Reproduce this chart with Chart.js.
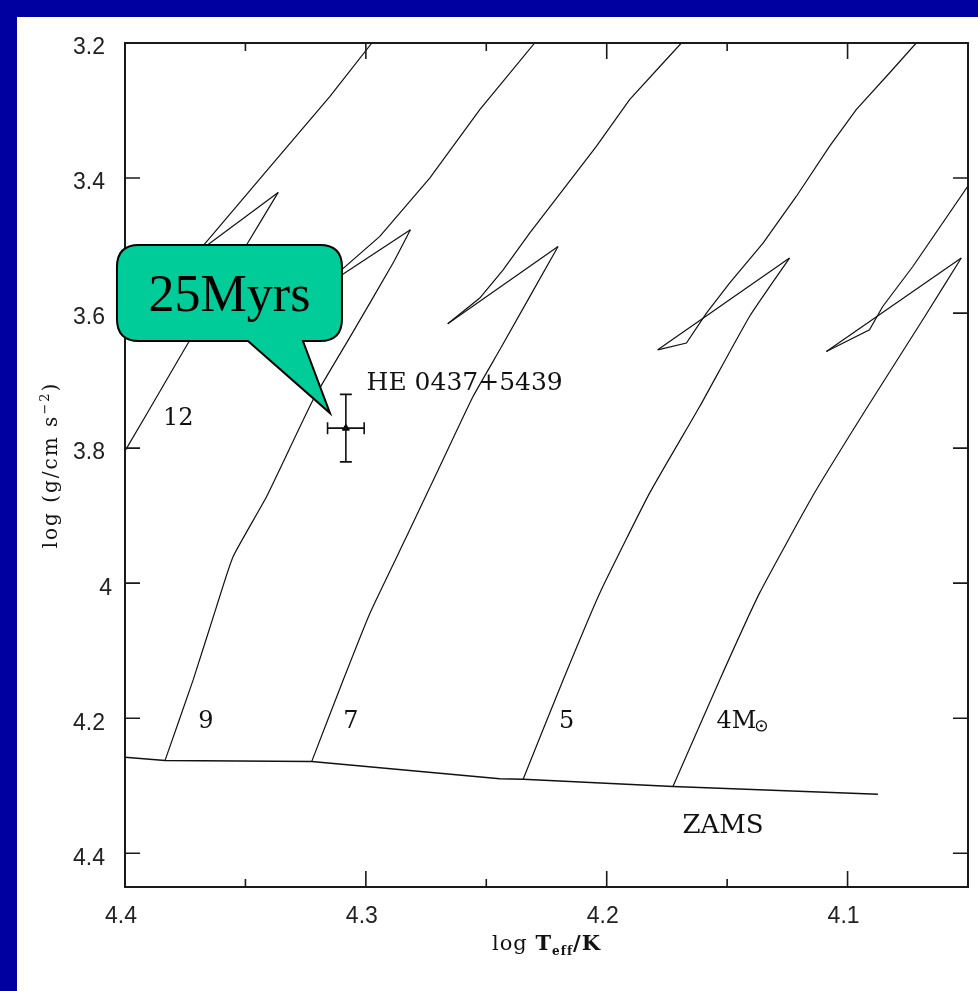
<!DOCTYPE html>
<html>
<head>
<meta charset="utf-8">
<title>HE 0437+5439 evolutionary tracks</title>
<script src="https://cdn.jsdelivr.net/npm/chart.js@4.4.1/dist/chart.umd.min.js"></script>
<style>
  html, body { margin: 0; padding: 0; background: #0000a0; }
  .panel { position: absolute; left: 17px; top: 17px; width: 961px; height: 974px; background: #fff; }
  canvas { display: block; }
</style>
</head>
<body>
<div class="panel"><canvas id="hrd"></canvas></div>
<script>
// axis ticks
const xMajorTicks = [4.4, 4.3, 4.2, 4.1];
const xMinorTicks = [4.35, 4.25, 4.15, 4.05];
const yTicks = [3.2, 3.4, 3.6, 3.8, 4.0, 4.2, 4.4];

// zero age main sequence
const zamsT = [4.4000, 4.3834, 4.3225, 4.2444, 4.2347, 4.1725, 4.0874];
const zamsG = [4.2578, 4.2628, 4.2643, 4.2895, 4.2904, 4.3013, 4.3126];

// each track: main sequence (ZAMS -> hook tip), hook (tip -> turn), ascent (turn -> out of box)
const m12MsT = [4.4021, 4.3993, 4.3827, 4.3730, 4.3495, 4.3364];
const m12MsG = [3.8139, 3.8000, 3.6988, 3.6396, 3.4988, 3.4213];
const m12HookT = [4.3364, 4.3701];
const m12HookG = [3.4213, 3.5107];
const m12PostT = [4.3701, 4.3647, 4.3398, 4.3149, 4.2975, 4.2938];
const m12PostG = [3.5107, 3.4884, 3.3833, 3.2791, 3.2000, 3.1847];

const m9MsT = [4.3834, 4.3717, 4.3620, 4.3551, 4.3412, 4.3219, 4.3066, 4.2887, 4.2815];
const m9MsG = [4.2628, 4.1433, 4.0347, 3.9606, 3.8717, 3.7284, 3.6356, 3.5259, 3.4766];
const m9HookT = [4.2815, 4.3124];
const m9HookG = [3.4766, 3.5490];
const m9PostT = [4.3124, 4.3101, 4.2942, 4.2734, 4.2527, 4.2299, 4.2266];
const m9PostG = [3.5490, 3.5359, 3.4865, 3.3996, 3.2988, 3.2000, 3.1847];

const m7MsT = [4.3225, 4.3094, 4.2983, 4.2831, 4.2693, 4.2555, 4.2444, 4.2202];
const m7MsG = [4.2643, 4.1433, 4.0444, 3.9310, 3.8273, 3.7236, 3.6544, 3.5013];
const m7HookT = [4.2202, 4.2660];
const m7HookG = [3.5013, 3.6159];
const m7PostT = [4.2660, 4.2527, 4.2430, 4.2320, 4.2181, 4.2043, 4.1905, 4.1766, 4.1690, 4.1656];
const m7PostG = [3.6159, 3.5778, 3.5359, 3.4815, 3.4173, 3.3532, 3.2840, 3.2296, 3.2000, 3.1847];

const m5MsT = [4.2347, 4.2181, 4.2029, 4.1822, 4.1614, 4.1407, 4.1241];
const m5MsG = [4.2904, 4.1433, 4.0148, 3.8667, 3.7384, 3.6050, 3.5185];
const m5HookT = [4.1241, 4.1788];
const m5HookG = [3.5185, 3.6544];
const m5PostT = [4.1788, 4.1669, 4.1586, 4.1490, 4.1351, 4.1213, 4.1075, 4.0964, 4.0826, 4.0715, 4.0680];
const m5PostG = [3.6544, 3.6444, 3.6000, 3.5556, 3.4963, 3.4273, 3.3532, 3.2988, 3.2444, 3.2000, 3.1847];

const m4MsT = [4.1725, 4.1531, 4.1365, 4.1137, 4.0917, 4.0680, 4.0528];
const m4MsG = [4.3013, 4.1433, 4.0144, 3.8662, 3.7388, 3.6055, 3.5185];
const m4HookT = [4.0528, 4.1088];
const m4HookG = [3.5185, 3.6569];
const m4PostT = [4.1088, 4.0909, 4.0854, 4.0729, 4.0501, 4.0411];
const m4PostG = [3.6569, 3.6247, 3.5902, 3.5310, 3.4124, 3.3655];

// the star with its errors
const starT = [4.3083];
const starG = [3.7704];
const starTErr = [0.0076];
const starGErr = [0.05];

// text on the plot
const trackLabels = ['12', '9', '7', '5'];
const trackLabelT = [4.3779, 4.3664, 4.3062, 4.2166];
const trackLabelG = [3.7655, 4.2144, 4.2144, 4.2144];

const pts = (xs, ys) => xs.map((x, i) => ({ x, y: ys[i] }));

const lineStyle = { showLine: true, pointRadius: 0, borderColor: '#111', borderWidth: 1.2, fill: false };
const smooth = { ...lineStyle, tension: 0.15 };
const straight = { ...lineStyle, tension: 0 };

function track(label, msT, msG, hookT, hookG, postT, postG) {
  return [
    { label: label + ' MS', data: pts(msT, msG), ...smooth },
    { label: label + ' hook', data: pts(hookT, hookG), ...straight },
    { label: label + ' post', data: pts(postT, postG), ...straight }
  ];
}

// PGPLOT-like box: frame, inward ticks, labels, titles
const frame = {
  id: 'frame',
  afterDatasetsDraw(chart) {
    const { ctx, chartArea: a, scales: { x, y } } = chart;
    ctx.save();
    ctx.strokeStyle = '#1a1a1a';
    ctx.lineWidth = 1.6;
    ctx.beginPath();
    xMajorTicks.forEach(v => {
      const px = x.getPixelForValue(v);
      ctx.moveTo(px, a.bottom); ctx.lineTo(px, a.bottom - 16);
      ctx.moveTo(px, a.top); ctx.lineTo(px, a.top + 16);
    });
    xMinorTicks.forEach(v => {
      const px = x.getPixelForValue(v);
      ctx.moveTo(px, a.bottom); ctx.lineTo(px, a.bottom - 8);
      ctx.moveTo(px, a.top); ctx.lineTo(px, a.top + 8);
    });
    yTicks.forEach(v => {
      const py = y.getPixelForValue(v);
      ctx.moveTo(a.left, py); ctx.lineTo(a.left + 15, py);
      ctx.moveTo(a.right, py); ctx.lineTo(a.right - 15, py);
    });
    ctx.stroke();
    ctx.lineWidth = 2;
    ctx.strokeRect(a.left, a.top, a.right - a.left, a.bottom - a.top);

    // tick labels
    ctx.fillStyle = '#222';
    ctx.font = '23px "Liberation Sans", Arial, sans-serif';
    ctx.textBaseline = 'middle';
    ctx.textAlign = 'center';
    xMajorTicks.forEach(v => {
      ctx.fillText(v.toFixed(1), x.getPixelForValue(v) - 4, a.bottom + 30);
    });
    ctx.textAlign = 'right';
    yTicks.forEach(v => {
      const nudge = Number.isInteger(v) ? 7 : 0;
      ctx.fillText(String(v), a.left - 20 + nudge, y.getPixelForValue(v) + 5);
    });

    // x title: log T_eff/K
    ctx.fillStyle = '#111';
    ctx.textBaseline = 'alphabetic';
    ctx.textAlign = 'left';
    ctx.letterSpacing = '1px';
    const serif = '"DejaVu Serif", serif';
    const partsX = [
      { t: 'log ', f: `21px ${serif}`, dy: 0 },
      { t: 'T', f: `bold 21px ${serif}`, dy: 0 },
      { t: 'eff', f: `bold 12px ${serif}`, dy: 5 },
      { t: '/K', f: `bold 21px ${serif}`, dy: 0 }
    ];
    let w = 0;
    partsX.forEach(p => { ctx.font = p.f; w += ctx.measureText(p.t).width; });
    let cx = (a.left + a.right) / 2 - w / 2;
    const by = a.bottom + 63;
    partsX.forEach(p => { ctx.font = p.f; ctx.fillText(p.t, cx, by + p.dy); cx += ctx.measureText(p.t).width; });

    // y title: log (g/cm s^-2)
    ctx.letterSpacing = '2px';
    const partsY = [
      { t: 'log (g/cm s', f: `20px ${serif}`, dy: 0 },
      { t: '\u22122', f: `13px ${serif}`, dy: -8 },
      { t: ')', f: `20px ${serif}`, dy: 0 }
    ];
    w = 0;
    partsY.forEach(p => { ctx.font = p.f; w += ctx.measureText(p.t).width; });
    ctx.translate(a.left - 68, (a.top + a.bottom) / 2);
    ctx.rotate(-Math.PI / 2);
    cx = -w / 2;
    partsY.forEach(p => { ctx.font = p.f; ctx.fillText(p.t, cx, p.dy); cx += ctx.measureText(p.t).width; });
    ctx.restore();
  }
};

// error bars and in-plot labels
const annotations = {
  id: 'annotations',
  afterDatasetsDraw(chart) {
    const { ctx, scales: { x, y } } = chart;
    ctx.save();
    ctx.strokeStyle = '#111';
    ctx.lineWidth = 1.6;
    ctx.beginPath();
    starT.forEach((t, i) => {
      const px = x.getPixelForValue(t), py = y.getPixelForValue(starG[i]);
      const x0 = x.getPixelForValue(t - starTErr[i]), x1 = x.getPixelForValue(t + starTErr[i]);
      const y0 = y.getPixelForValue(starG[i] - starGErr[i]), y1 = y.getPixelForValue(starG[i] + starGErr[i]);
      ctx.moveTo(x0, py); ctx.lineTo(x1, py);
      ctx.moveTo(px, y0); ctx.lineTo(px, y1);
      ctx.moveTo(x0, py - 6); ctx.lineTo(x0, py + 6);
      ctx.moveTo(x1, py - 6); ctx.lineTo(x1, py + 6);
      ctx.moveTo(px - 6, y0); ctx.lineTo(px + 6, y0);
      ctx.moveTo(px - 6, y1); ctx.lineTo(px + 6, y1);
    });
    ctx.stroke();

    const serif = '"DejaVu Serif", serif';
    ctx.fillStyle = '#111';
    ctx.textBaseline = 'alphabetic';
    ctx.font = `24px ${serif}`;
    ctx.textAlign = 'center';
    trackLabels.forEach((s, i) => {
      ctx.fillText(s, x.getPixelForValue(trackLabelT[i]), y.getPixelForValue(trackLabelG[i]));
    });

    // 4 M_sun
    ctx.textAlign = 'left';
    const mx = x.getPixelForValue(4.1544), my = y.getPixelForValue(4.2144);
    ctx.fillText('4M', mx, my);
    const cx = mx + ctx.measureText('4M').width + 5;
    ctx.lineWidth = 1.3;
    ctx.beginPath(); ctx.arc(cx, my - 2, 5, 0, Math.PI * 2); ctx.stroke();
    ctx.beginPath(); ctx.arc(cx, my - 2, 1.4, 0, Math.PI * 2); ctx.fill();

    ctx.font = `26px ${serif}`;
    ctx.textAlign = 'center';
    ctx.fillText('ZAMS', x.getPixelForValue(4.1517), y.getPixelForValue(4.3700));

    ctx.font = `25px ${serif}`;
    ctx.textAlign = 'left';
    ctx.fillText('HE 0437+5439', x.getPixelForValue(4.2997), y.getPixelForValue(3.7136));
    ctx.restore();
  }
};

// speech bubble "25Myrs" pointing at the star
const bubble = {
  id: 'bubble',
  afterDraw(chart) {
    const { ctx, scales: { x, y } } = chart;
    const tx = x.getPixelForValue(4.3149), ty = y.getPixelForValue(3.7481);
    const l = tx - 213, r = tx + 12, t = ty - 168, b = ty - 72, rad = 22;
    const b0 = tx - 82, b1 = tx - 27;
    ctx.save();
    ctx.beginPath();
    ctx.moveTo(l + rad, t);
    ctx.lineTo(r - rad, t);
    ctx.quadraticCurveTo(r, t, r, t + rad);
    ctx.lineTo(r, b - rad);
    ctx.quadraticCurveTo(r, b, r - rad, b);
    ctx.lineTo(b1, b);
    ctx.lineTo(tx, ty);
    ctx.lineTo(b0, b);
    ctx.lineTo(l + rad, b);
    ctx.quadraticCurveTo(l, b, l, b - rad);
    ctx.lineTo(l, t + rad);
    ctx.quadraticCurveTo(l, t, l + rad, t);
    ctx.closePath();
    ctx.fillStyle = '#00cc99';
    ctx.fill();
    ctx.lineWidth = 2;
    ctx.strokeStyle = '#000';
    ctx.stroke();
    ctx.fillStyle = '#000';
    ctx.font = '52px "Liberation Serif", "Times New Roman", serif';
    ctx.textAlign = 'center';
    ctx.textBaseline = 'alphabetic';
    ctx.fillText('25Myrs', (l + r) / 2, ty - 102);
    ctx.restore();
  }
};

new Chart(document.getElementById('hrd'), {
  type: 'scatter',
  data: {
    datasets: [
      { label: 'ZAMS', data: pts(zamsT, zamsG), ...straight, borderWidth: 1.5 },
      ...track('12', m12MsT, m12MsG, m12HookT, m12HookG, m12PostT, m12PostG),
      ...track('9', m9MsT, m9MsG, m9HookT, m9HookG, m9PostT, m9PostG),
      ...track('7', m7MsT, m7MsG, m7HookT, m7HookG, m7PostT, m7PostG),
      ...track('5', m5MsT, m5MsG, m5HookT, m5HookG, m5PostT, m5PostG),
      ...track('4', m4MsT, m4MsG, m4HookT, m4HookG, m4PostT, m4PostG),
      {
        label: 'HE 0437+5439', data: pts(starT, starG), showLine: false,
        pointStyle: 'triangle', pointRadius: 4, backgroundColor: '#000', borderColor: '#000', borderWidth: 1
      }
    ]
  },
  options: {
    responsive: true,
    maintainAspectRatio: false,
    animation: false,
    layout: { padding: { left: 108, top: 26, right: 10, bottom: 104 } },
    plugins: { legend: { display: false }, tooltip: { enabled: false } },
    scales: {
      x: { type: 'linear', min: 4.05, max: 4.4, reverse: true, display: false },
      y: { type: 'linear', min: 3.2, max: 4.45, reverse: true, display: false }
    }
  },
  plugins: [frame, annotations, bubble]
});
</script>
</body>
</html>
